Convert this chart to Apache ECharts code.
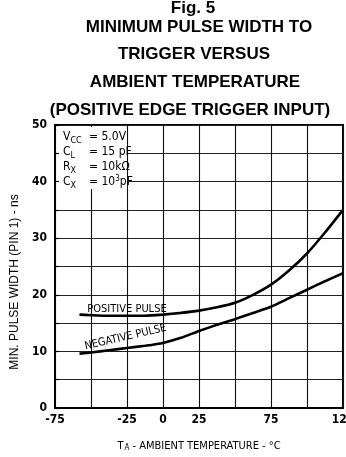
<!DOCTYPE html>
<html>
<head>
<meta charset="utf-8">
<script src="https://cdn.jsdelivr.net/npm/echarts@6/dist/echarts.min.js"></script>
<style>
  html, body { margin: 0; padding: 0; background: #fff; }
  #chart { width: 346px; height: 457px; }
</style>
</head>
<body>
<div id="chart"></div>
<script>
// Ambient temperature (°C) at which the curves were sampled
const temps = [-58, -50, -37.5, -25, -12.5, 0, 12.5, 25, 37.5, 50, 62.5, 75, 87.5, 100, 112.5, 125];
// Minimum pulse width (ns) for each pulse polarity
const positivePulse = [16.5, 16.4, 16.3, 16.3, 16.3, 16.5, 16.8, 17.2, 17.8, 18.6, 20.0, 21.8, 24.3, 27.3, 31.0, 35.0];
const negativePulse = [9.6, 9.8, 10.2, 10.6, 11.0, 11.5, 12.4, 13.6, 14.7, 15.7, 16.8, 17.9, 19.4, 20.9, 22.4, 23.8];
// Tick labels printed along the axes
const xTickLabels = [-75, -25, 0, 25, 75, 125];
const yTickLabels = [0, 10, 20, 30, 40, 50];
// Title lines
const titleLines = [
  'Fig. 5',
  'MINIMUM PULSE WIDTH TO',
  'TRIGGER VERSUS',
  'AMBIENT TEMPERATURE',
  '(POSITIVE EDGE TRIGGER INPUT)'
];
const yAxisTitle = 'MIN. PULSE WIDTH (PIN 1) - ns';

const HEAD_FONT = '"Liberation Sans", Arial, sans-serif';
const NARROW_FONT = '"Liberation Sans Narrow", "DejaVu Sans Condensed", "Liberation Sans", sans-serif';

const chart = echarts.init(document.getElementById('chart'), null, { renderer: 'canvas' });

function zip(xs, ys) { return xs.map((x, i) => [x, ys[i]]); }

const curveStyle = { color: '#000', width: 2.6 };

const titleY = [8, 27, 54.5, 82, 110];
const titleX = [193, 199, 194, 195, 190];

const graphics = titleLines.map((t, i) => ({
  type: 'text', z: 30,
  x: titleX[i], y: titleY[i],
  style: {
    text: t, x: 0, y: 0,
    textAlign: 'center', textVerticalAlign: 'middle',
    font: 'bold 17px ' + HEAD_FONT,
    fill: '#000'
  }
}));

// Vertical axis caption, set slightly below the plot's middle
graphics.push({
  type: 'text', z: 30,
  x: 15, y: 282, rotation: Math.PI / 2,
  style: {
    text: yAxisTitle, x: 0, y: 0,
    textAlign: 'center', textVerticalAlign: 'middle',
    font: '12px ' + HEAD_FONT, fill: '#000'
  }
});

chart.setOption({
  animation: false,
  backgroundColor: '#fff',
  grid: {
    left: 55, right: 3, top: 125, bottom: 49,
    outerBoundsMode: 'none', containLabel: false,
    show: true, borderColor: '#000', borderWidth: 2, backgroundColor: 'transparent'
  },
  xAxis: {
    type: 'value', min: -75, max: 125, interval: 25,
    axisLine: { show: true, onZero: false, lineStyle: { color: '#000', width: 2 } },
    axisTick: { show: false },
    splitLine: { show: true, lineStyle: { color: '#111', width: 1.1 } },
    axisLabel: {
      margin: 6, hideOverlap: false,
      alignMinLabel: 'center', alignMaxLabel: 'center',
      color: '#000', fontFamily: NARROW_FONT, fontSize: 12, fontWeight: 'bold',
      showMaxLabel: true, showMinLabel: true,
      formatter: v => xTickLabels.indexOf(v) >= 0 ? String(v) : ''
    },
    name: '{t|T}{s|A}{t| - AMBIENT TEMPERATURE - °C}',
    nameLocation: 'middle', nameGap: 30,
    nameTextStyle: {
      rich: {
        t: { fontFamily: NARROW_FONT, fontSize: 11, color: '#000', verticalAlign: 'bottom' },
        s: { fontFamily: NARROW_FONT, fontSize: 8, color: '#000', padding: [6, 0, 0, 1], verticalAlign: 'bottom' }
      }
    }
  },
  yAxis: {
    type: 'value', min: 0, max: 50, interval: 5,
    axisLine: { show: true, onZero: false, lineStyle: { color: '#000', width: 2 } },
    axisTick: { show: true, inside: true, length: 4, lineStyle: { color: '#000', width: 1.2 } },
    splitLine: { show: true, lineStyle: { color: '#222', width: 1.1 } },
    axisLabel: {
      margin: 8,
      color: '#000', fontFamily: NARROW_FONT, fontSize: 12, fontWeight: 'bold',
      formatter: v => yTickLabels.indexOf(v) >= 0 ? String(v) : ''
    }
  },
  series: [
    {
      name: 'POSITIVE PULSE', type: 'line', data: zip(temps, positivePulse),
      smooth: 0.2, showSymbol: false, lineStyle: curveStyle, z: 5
    },
    {
      name: 'NEGATIVE PULSE', type: 'line', data: zip(temps, negativePulse),
      smooth: 0.2, showSymbol: false, lineStyle: curveStyle, z: 5
    }
  ],
  graphic: graphics
});

// Curve captions, placed in data space just above each curve
const posAnchor = chart.convertToPixel({ gridIndex: 0 }, [-25, 17.4]);
const negAnchor = chart.convertToPixel({ gridIndex: 0 }, [-26, 12.5]);

// Test-condition box in the upper-left corner of the plot
const cond = [
  ['{m|V}{s|CC}', '= 5.0V'],
  ['{m|C}{s|L}', '= 15 pF'],
  ['{m|R}{s|X}', '= 10kΩ'],
  ['{m|C}{s|X}', '= 10{p|3}pF']
];
const condRich = {
  m: { fontFamily: NARROW_FONT, fontSize: 12, color: '#000' },
  s: { fontFamily: NARROW_FONT, fontSize: 9, color: '#000', padding: [7, 0, 0, 0] },
  v: { fontFamily: NARROW_FONT, fontSize: 12, color: '#000' },
  p: { fontFamily: NARROW_FONT, fontSize: 8, color: '#000', padding: [0, 0, 7, 0] }
};

const extra = [
  {
    type: 'rect', x: 59, y: 127, z: 20,
    shape: { width: 68, height: 62 },
    style: { fill: '#fff' }
  },
  {
    type: 'text', z: 30,
    x: posAnchor[0], y: posAnchor[1],
    style: {
      text: 'POSITIVE PULSE', x: 0, y: 0,
      textAlign: 'center', textVerticalAlign: 'middle',
      font: '11px ' + NARROW_FONT, fill: '#000'
    }
  },
  {
    type: 'text', z: 30,
    x: negAnchor[0], y: negAnchor[1], rotation: 13 * Math.PI / 180,
    style: {
      text: 'NEGATIVE PULSE', x: 0, y: 0,
      textAlign: 'center', textVerticalAlign: 'middle',
      font: '11px ' + NARROW_FONT, fill: '#000'
    }
  }
];
cond.forEach((row, i) => {
  extra.push({
    type: 'text', z: 30, x: 63, y: 137 + i * 15,
    style: { text: row[0], rich: condRich, textVerticalAlign: 'middle', x: 0, y: 0 }
  });
  extra.push({
    type: 'text', z: 30, x: 89, y: 137 + i * 15,
    style: { text: '{v|' + row[1].replace('{p|3}', '}{p|3}{v|') + '}', rich: condRich, textVerticalAlign: 'middle', x: 0, y: 0 }
  });
});

chart.setOption({ graphic: graphics.concat(extra) });
</script>
</body>
</html>
